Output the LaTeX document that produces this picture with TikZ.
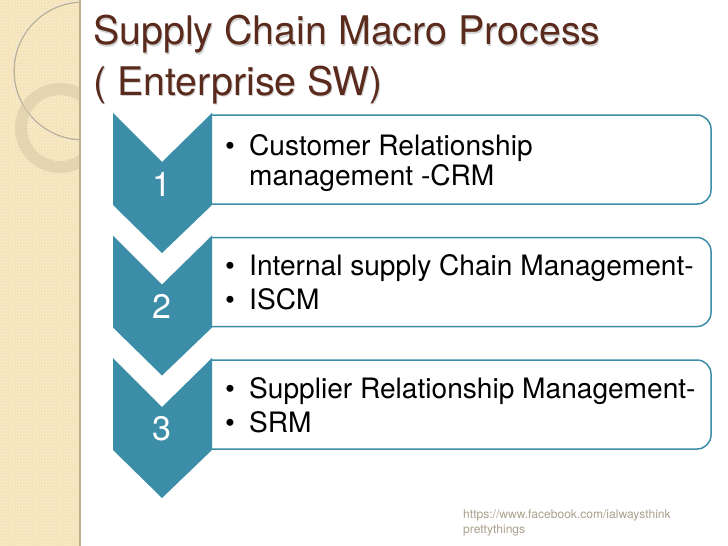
\documentclass[tikz,border=0pt]{standalone}
\usepackage{fontspec}
\setmainfont{TeX Gyre Heros}
\usepackage{tikz}
\usetikzlibrary{patterns, positioning}
\definecolor{SlideTan}{HTML}{F5E3B8}
\definecolor{SlideTanLight}{HTML}{F8EDD3}
\definecolor{SlideEdge}{HTML}{BDB08F}
\definecolor{SlideRing}{HTML}{D8CBA8}
\definecolor{SlideTitle}{HTML}{5A2A1C}
\definecolor{ChainTeal}{HTML}{3C8EA8}
\definecolor{FootGray}{HTML}{AAA08C}
\tikzset{
    titletext/.style={anchor=base west, inner sep=0pt, text=SlideTitle, font=\fontsize{39.4}{40}\selectfont},
    titleshade/.style={anchor=base west, inner sep=0pt, text=black!18, font=\fontsize{39.4}{40}\selectfont},
    itemtext/.style={anchor=base west, inner sep=0pt, text=black, font=\fontsize{28.1}{29}\selectfont},
    stepnum/.style={text=white, font=\fontsize{34}{34}\selectfont},
    foottext/.style={anchor=base west, inner sep=0pt, text=FootGray, font=\fontsize{12.05}{13}\selectfont},
}

\begin{document}
\begin{tikzpicture}[x=1pt, y=-1pt]
    \useasboundingbox (0,0) rectangle (728,546);

    % Background
    \fill[white] (0,0) rectangle (728,546);
    \fill[SlideTan] (0,0) rectangle (80,546);
    \fill[pattern=crosshatch dots, pattern color=white!70!SlideTan] (0,0) rectangle (80,546);
    \fill[SlideEdge] (79,0) rectangle (81,546);

    % Decoration on the panel
    \begin{scope}
        \clip (0,0) rectangle (79,546);
        \fill[SlideTanLight] (0,0) -- (65,0) arc[start angle=0, end angle=90, radius=65, y radius=-65] -- cycle;
        \draw[SlideEdge, line width=1.5pt] (83,71) circle (69);
        \draw[white!70!SlideEdge, line width=.8pt] (83,71) circle (70);
        \draw[SlideRing, line width=12pt, opacity=.6] (60,128) circle (39);
    \end{scope}

    % Title
    \node[titleshade] (titleshadea) at (94,46) {Supply Chain Macro Process};
    \node[titleshade] (titleshadeb) at (94,96.5) {( Enterprise SW)};
    \node[titletext] (titlea) at (93,44.5) {Supply Chain Macro Process};
    \node[titletext] (titleb) at (93,95) {( Enterprise SW)};

    % Boxes and chevrons
    \foreach \t/\n in {113/1, 235.5/2, 358/3} {
        \draw[ChainTeal, line width=1.5pt, fill=white]
            (212,\t+2) -- (697,\t+2) arc[start angle=90, end angle=0, radius=14, y radius=-14]
            -- (711,\t+77) arc[start angle=0, end angle=-90, radius=14, y radius=-14] -- (212,\t+91);
        \fill[ChainTeal] (113,\t) -- (162,\t+49) -- (212,\t) -- (212,\t+92)
            -- (162,\t+140) -- (113,\t+92) -- cycle;
        \node[stepnum] (num\n) at (162,\t+71) {\n};
    }

    % Items
    \node[itemtext] (bula) at (225,155) {\textbullet};
    \node[itemtext] (itema) at (249,155) {Customer Relationship};
    \node[itemtext] (itemb) at (249,185) {management -CRM};
    \node[itemtext] (bulb) at (225,275) {\textbullet};
    \node[itemtext] (itemc) at (249,275) {Internal supply Chain Management-};
    \node[itemtext] (bulc) at (225,309) {\textbullet};
    \node[itemtext] (itemd) at (249,309) {ISCM};
    \node[itemtext] (buld) at (225,398) {\textbullet};
    \node[itemtext] (iteme) at (249,398) {Supplier Relationship Management-};
    \node[itemtext] (bule) at (225,432) {\textbullet};
    \node[itemtext] (itemf) at (249,432) {SRM};

    % Footer
    \node[foottext] (foota) at (463,518) {https://www.facebook.com/ialwaysthink};
    \node[foottext] (footb) at (463,533) {prettythings};

\end{tikzpicture}
\end{document}
